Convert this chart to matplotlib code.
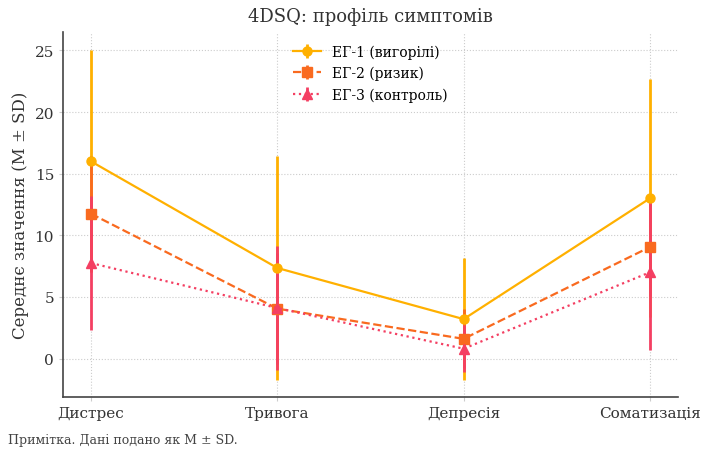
import matplotlib.pyplot as plt

plt.rcParams['font.family'] = ['DejaVu Serif']

categories = ['Дистрес', 'Тривога', 'Депресія', 'Соматизація']
groups = ['ЕГ-1 (вигорілі)', 'ЕГ-2 (ризик)', 'ЕГ-3 (контроль)']

eg1_mean = [16.0, 7.35, 3.2, 13.0]
eg1_sd = [9.0, 9.05, 4.95, 9.65]
eg2_mean = [11.75, 4.05, 1.6, 9.05]
eg2_sd = [4.7, 4.5, 2.4, 4.0]
eg3_mean = [7.75, 4.1, 0.8, 7.0]
eg3_sd = [5.45, 5.05, 1.9, 6.3]

colors = ['#FFB000', '#F96A1F', '#F43F62']
markers = ['o', 's', '^']
styles = ['-', '--', ':']

fig = plt.figure(figsize=(7.01, 4.52), dpi=100)
ax = fig.add_axes([0.09, 0.12, 0.877, 0.807])

x = range(len(categories))
means = [eg1_mean, eg2_mean, eg3_mean]
sds = [eg1_sd, eg2_sd, eg3_sd]
for i in range(3):
    ax.errorbar(x, means[i], yerr=sds[i], color=colors[i], marker=markers[i],
                linestyle=styles[i], linewidth=1.6, markersize=6.5,
                elinewidth=2, capsize=0, label=groups[i])

ax.set_xticks(list(x))
ax.set_xticklabels(categories, fontsize=11, color='#333333')
ax.set_xlim(-0.15, 3.15)
ax.set_ylim(-3.1, 26.5)
ax.set_yticks([0, 5, 10, 15, 20, 25])
ax.tick_params(axis='y', labelsize=11, length=3, color='#cccccc', labelcolor='#333333')
ax.tick_params(axis='x', length=3, color='#cccccc')
ax.set_ylabel('Середнє значення (M ± SD)', fontsize=12, color='#333333')
ax.set_title('4DSQ: профіль симптомів', fontsize=13, color='#333333', pad=8)

ax.grid(True, linestyle=':', color='#cccccc', linewidth=0.8)
ax.set_axisbelow(True)
for s in ['top', 'right']:
    ax.spines[s].set_visible(False)
for s in ['left', 'bottom']:
    ax.spines[s].set_color('#444444')
    ax.spines[s].set_linewidth(1.2)

ax.legend(loc='upper center', frameon=False, fontsize=10, bbox_to_anchor=(0.5, 1.0))

fig.text(0.011, 0.018, 'Примітка. Дані подано як M ± SD.', fontsize=9, color='#444444')

fig.savefig('out.png', dpi=100)
